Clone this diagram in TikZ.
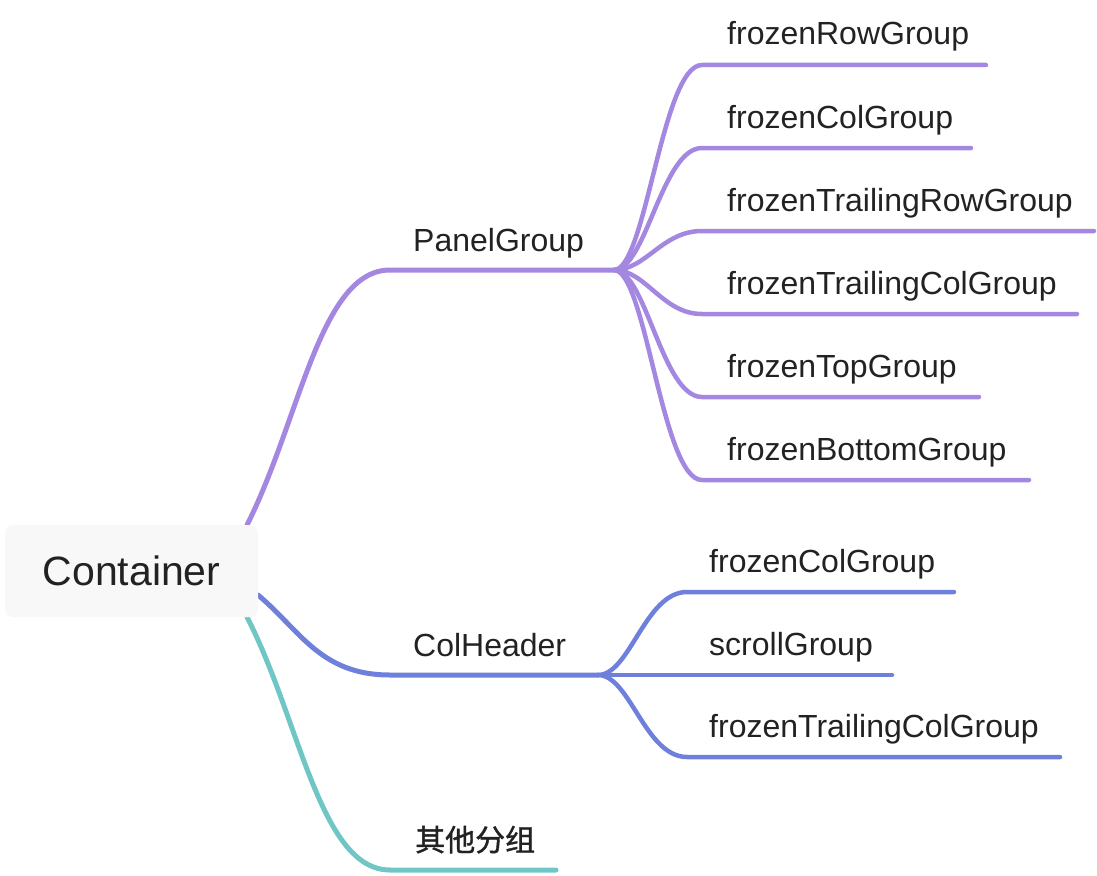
\documentclass[tikz,border=0pt]{standalone}
\usepackage{fontspec}
\setmainfont{Liberation Sans}
\newfontfamily\cjk[FakeBold=1.2]{Noto Sans CJK SC}
\usetikzlibrary{backgrounds}
\definecolor{purp}{HTML}{A487E0}
\definecolor{blu}{HTML}{6E80DB}
\definecolor{tea}{HTML}{6FC6C4}
\definecolor{boxfill}{HTML}{F8F8F8}
\definecolor{txt}{HTML}{222222}
\begin{document}
\begin{tikzpicture}[x=1pt,y=-1pt,
  mainbr/.style={line width=5, line cap=round},
  subbr/.style={line width=4.5, line cap=round},
  lbl/.style={anchor=base west, inner sep=0, text=txt, font=\fontsize{32}{36}\selectfont},
  rootbox/.style={fill=boxfill, rounded corners=8, minimum width=253, minimum height=92, inner sep=0, text=txt, font=\fontsize{41}{46}\selectfont}
]
\useasboundingbox (0,0) rectangle (1097,875);

% root
\node[rootbox] (root) at (131.5,571) {Container};

% level-1 labels
\node[lbl] (pg) at (413,251) {PanelGroup};
\node[lbl] (ch) at (413,656) {ColHeader};
\node[lbl, font=\cjk\fontsize{30}{34}\selectfont] (qt) at (415,851) {其他分组};

% PanelGroup children
\node[lbl] (p1) at (727,45) {frozenRowGroup};
\node[lbl] (p2) at (727,128) {frozenColGroup};
\node[lbl] (p3) at (727,211) {frozenTrailingRowGroup};
\node[lbl] (p4) at (727,294) {frozenTrailingColGroup};
\node[lbl] (p5) at (727,377) {frozenTopGroup};
\node[lbl] (p6) at (727,460) {frozenBottomGroup};

% ColHeader children
\node[lbl] (c1) at (709,572) {frozenColGroup};
\node[lbl] (c2) at (709,655) {scrollGroup};
\node[lbl] (c3) at (709,737) {frozenTrailingColGroup};

% connector coordinates
\coordinate (pgS) at (247,525);
\coordinate (pgL) at (390,270);
\coordinate (pgHub) at (614,270);
\coordinate (chS) at (258,595);
\coordinate (chL) at (390,675);
\coordinate (chHub) at (598,675);
\coordinate (qtS) at (247,617);
\coordinate (qtL) at (390,870);
\coordinate (qtE) at (556,870);

\coordinate (p1a) at (702,65);   \coordinate (p1b) at (986,65);
\coordinate (p2a) at (702,148);  \coordinate (p2b) at (971,148);
\coordinate (p3a) at (702,231);  \coordinate (p3b) at (1094,231);
\coordinate (p4a) at (702,314);  \coordinate (p4b) at (1077,314);
\coordinate (p5a) at (702,397);  \coordinate (p5b) at (979,397);
\coordinate (p6a) at (702,480);  \coordinate (p6b) at (1029,480);

\coordinate (c1a) at (687,592);  \coordinate (c1b) at (954,592);
\coordinate (c2b) at (892,675);
\coordinate (c3a) at (687,757);  \coordinate (c3b) at (1060,757);

\begin{scope}[on background layer]
  % main branches
  \draw[mainbr, purp] (pgS) .. controls (300,420) and (320,270) .. (pgL) -- (pgHub);
  \draw[mainbr, blu] (chS) .. controls (300,630) and (320,675) .. (chL) -- (chHub);
  \draw[mainbr, tea] (qtS) .. controls (300,720) and (320,870) .. (qtL) -- (qtE);

  % PanelGroup sub-branches
  \draw[subbr, purp] (pgHub) .. controls (646,270) and (662,65) .. (p1a) -- (p1b);
  \draw[subbr, purp] (pgHub) .. controls (646,270) and (662,148) .. (p2a) -- (p2b);
  \draw[subbr, purp] (pgHub) .. controls (646,270) and (662,231) .. (p3a) -- (p3b);
  \draw[subbr, purp] (pgHub) .. controls (646,270) and (662,314) .. (p4a) -- (p4b);
  \draw[subbr, purp] (pgHub) .. controls (646,270) and (662,397) .. (p5a) -- (p5b);
  \draw[subbr, purp] (pgHub) .. controls (646,270) and (662,480) .. (p6a) -- (p6b);

  % ColHeader sub-branches
  \draw[subbr, blu] (chHub) .. controls (630,675) and (645,592) .. (c1a) -- (c1b);
  \draw[subbr, blu] (chHub) -- (c2b);
  \draw[subbr, blu] (chHub) .. controls (630,675) and (645,757) .. (c3a) -- (c3b);
\end{scope}
\end{tikzpicture}
\end{document}
